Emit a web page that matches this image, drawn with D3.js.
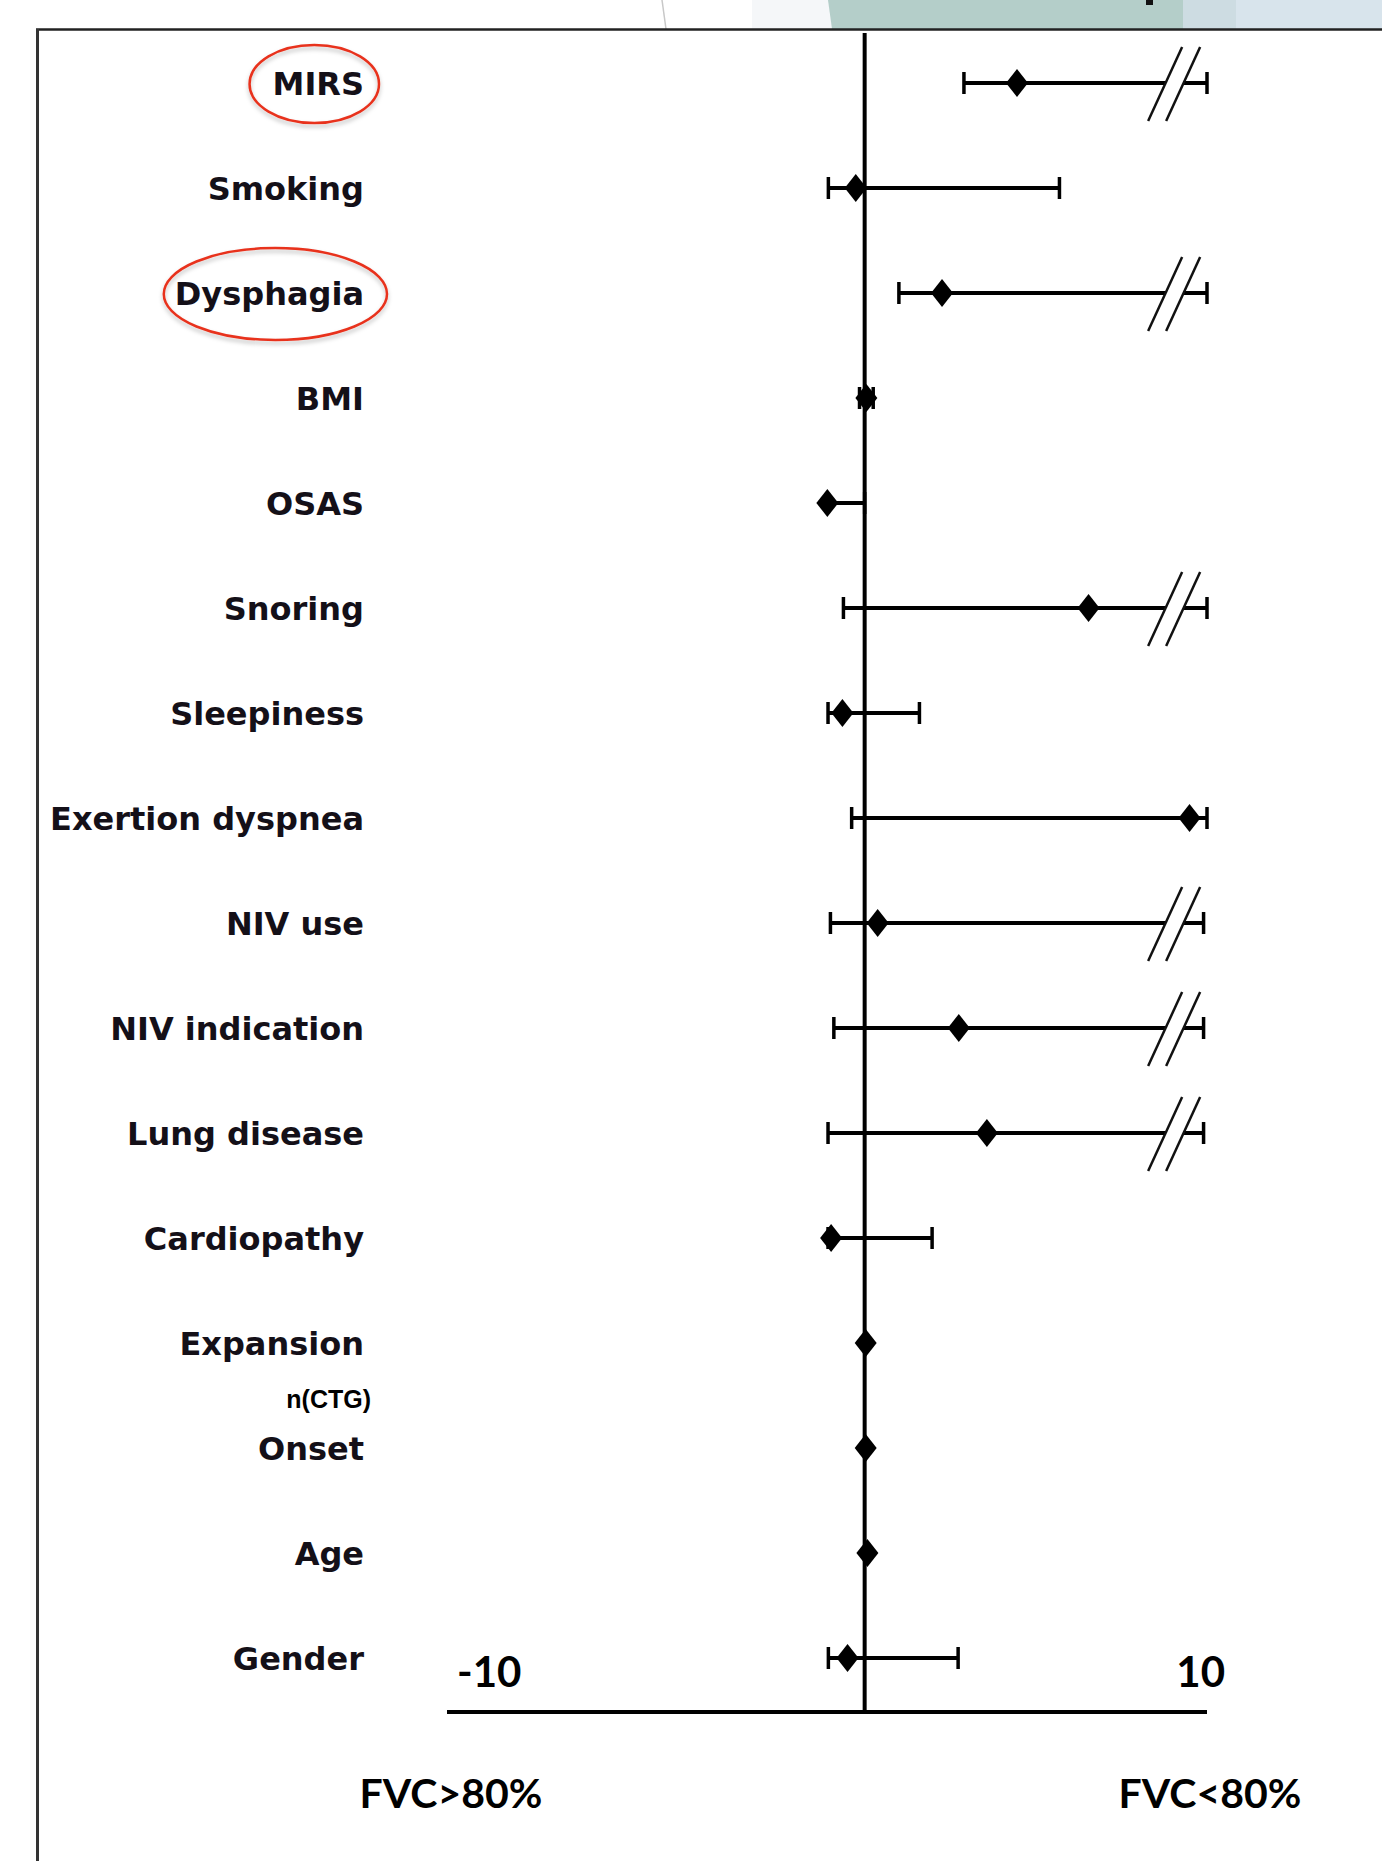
<!DOCTYPE html>
<html>
<head>
<meta charset="utf-8">
<script src="https://cdn.jsdelivr.net/npm/d3@7"></script>
<style>
  body { margin: 0; background: #fff; }
  svg { display: block; }
</style>
</head>
<body>
<div id="chart"></div>
<script>
// forest plot: FVC>80% vs FVC<80%
var categories = ["MIRS", "Smoking", "Dysphagia", "BMI", "OSAS", "Snoring", "Sleepiness",
  "Exertion dyspnea", "NIV use", "NIV indication", "Lung disease", "Cardiopathy",
  "Expansion", "Onset", "Age", "Gender"];
var estimates = [4.45, -0.26, 2.26, 0.05, -1.09, 6.54, -0.65, 9.49, 0.38, 2.75, 3.57, -0.98, 0.03, 0.03, 0.08, -0.5];
var lower = [2.9, -1.06, 1.0, -0.15, -1.09, -0.62, -1.07, -0.38, -1.0, -0.9, -1.07, -1.07, 0.03, 0.03, 0.08, -1.06];
var upper = [10, 5.69, 10, 0.25, 0, 10, 1.6, 10, 9.9, 9.9, 9.9, 1.97, 0.03, 0.03, 0.08, 2.73];
var truncated = [true, false, true, false, false, true, false, false, true, true, true, false, false, false, false, false];
var highlighted = ["MIRS", "Dysphagia"];
var tickLabels = ["-10", "10"];
var sideLabels = ["FVC>80%", "FVC<80%"];
var subLabel = "n(CTG)";
var breakAt = 9.04;

var width = 1382, height = 1861;

var svg = d3.select("#chart").append("svg")
  .attr("width", width)
  .attr("height", height);

var defs = svg.append("defs");
defs.append("filter").attr("id", "shadow")
  .attr("x", "-20%").attr("y", "-20%").attr("width", "140%").attr("height", "150%")
  .append("feDropShadow")
  .attr("dx", 0).attr("dy", 3).attr("stdDeviation", 2)
  .attr("flood-color", "#000").attr("flood-opacity", 0.25);

// slide background peeking above the frame
svg.append("rect").attr("x", 752).attr("y", 0).attr("width", 80).attr("height", 29).style("fill", "#f5f7f9");
svg.append("polygon").attr("points", "828,0 1183,0 1183,29 832,29").style("fill", "#b4cec9");
svg.append("rect").attr("x", 1183).attr("y", 0).attr("width", 53).attr("height", 29).style("fill", "#cddce2");
svg.append("rect").attr("x", 1236).attr("y", 0).attr("width", 146).attr("height", 29).style("fill", "#d8e4ec");
svg.append("rect").attr("x", 1146).attr("y", 0).attr("width", 7).attr("height", 5).style("fill", "#111");
svg.append("line").attr("x1", 662).attr("y1", 0).attr("x2", 666).attr("y2", 29)
  .style("stroke", "#c8c8c8").style("stroke-width", 1.5);

// frame
svg.append("line").attr("x1", 36).attr("y1", 29.5).attr("x2", width).attr("y2", 29.5)
  .style("stroke", "#222").style("stroke-width", 2.5);
svg.append("line").attr("x1", 37.5).attr("y1", 29).attr("x2", 37.5).attr("y2", height)
  .style("stroke", "#333").style("stroke-width", 3);

var x = d3.scaleLinear().domain([-12.2, 10]).range([447, 1207]);
var y = d3.scalePoint().domain(categories).range([83, 1658]);

var rows = categories.map(function(c, i) {
  return { name: c, est: estimates[i], lo: lower[i], hi: upper[i], cut: truncated[i] };
});

// zero line and bottom axis
svg.append("line")
  .attr("x1", x(0)).attr("x2", x(0)).attr("y1", 33).attr("y2", 1714)
  .style("stroke", "#000").style("stroke-width", 4);
svg.append("line")
  .attr("x1", x.range()[0]).attr("x2", x.range()[1]).attr("y1", 1712).attr("y2", 1712)
  .style("stroke", "#000").style("stroke-width", 4);

svg.append("text")
  .attr("x", x.range()[0] + 10).attr("y", 1687)
  .style("font-family", "Lato, sans-serif").style("font-weight", 700).style("font-size", "42px")
  .style("text-anchor", "start")
  .text(tickLabels[0]);
svg.append("text")
  .attr("x", x(10) + 18).attr("y", 1687)
  .style("font-family", "Lato, sans-serif").style("font-weight", 700).style("font-size", "42px")
  .style("text-anchor", "end")
  .text(tickLabels[1]);

svg.selectAll(".side")
  .data(sideLabels)
  .enter().append("text")
  .attr("class", "side")
  .attr("x", function(d, i) { return i == 0 ? 451 : 1210; })
  .attr("y", 1808)
  .style("font-family", "Lato, sans-serif").style("font-weight", 700).style("font-size", "41px")
  .style("text-anchor", "middle")
  .text(function(d) { return d; });

// row labels
var labels = svg.selectAll(".lab")
  .data(rows)
  .enter().append("text")
  .attr("class", "lab")
  .attr("x", 364)
  .attr("y", function(d) { return y(d.name) + 12; })
  .style("font-family", "'DejaVu Sans', sans-serif").style("font-weight", "bold").style("font-size", "32px")
  .style("fill", "#141018")
  .style("text-anchor", "end")
  .text(function(d) { return d.name; });

svg.append("text")
  .attr("x", 371).attr("y", 1408)
  .style("font-family", "'Liberation Sans', Arial, sans-serif").style("font-weight", "bold").style("font-size", "25px")
  .style("text-anchor", "end")
  .text(subLabel);

// red ellipses round the key variables
labels.filter(function(d) { return highlighted.indexOf(d.name) >= 0; })
  .each(function(d) {
    var b = this.getBBox();
    var mirs = d.name == "MIRS";
    svg.append("ellipse")
      .attr("cx", b.x + b.width / 2 + (mirs ? -4 : 6))
      .attr("cy", y(d.name) + 1)
      .attr("rx", b.width / 2 + (mirs ? 19 : 17))
      .attr("ry", mirs ? 39 : 46)
      .style("fill", "none")
      .style("stroke", "#e8321e")
      .style("stroke-width", 2.5)
      .attr("filter", "url(#shadow)");
  });

// confidence intervals
var ci = rows.filter(function(d) { return d.hi > d.lo; });

svg.selectAll(".ci")
  .data(ci)
  .enter().append("line")
  .attr("class", "ci")
  .attr("x1", function(d) { return x(d.lo); })
  .attr("x2", function(d) { return x(d.hi); })
  .attr("y1", function(d) { return y(d.name); })
  .attr("y2", function(d) { return y(d.name); })
  .style("stroke", "#000").style("stroke-width", 4);

svg.selectAll(".capL")
  .data(ci)
  .enter().append("line")
  .attr("class", "capL")
  .attr("x1", function(d) { return x(d.lo); })
  .attr("x2", function(d) { return x(d.lo); })
  .attr("y1", function(d) { return y(d.name) - 11; })
  .attr("y2", function(d) { return y(d.name) + 11; })
  .style("stroke", "#000").style("stroke-width", 3.5);

svg.selectAll(".capR")
  .data(ci)
  .enter().append("line")
  .attr("class", "capR")
  .attr("x1", function(d) { return x(d.hi); })
  .attr("x2", function(d) { return x(d.hi); })
  .attr("y1", function(d) { return y(d.name) - 11; })
  .attr("y2", function(d) { return y(d.name) + 11; })
  .style("stroke", "#000").style("stroke-width", 3.5);

// axis breaks "//"
var breaks = svg.selectAll(".brk")
  .data(rows.filter(function(d) { return d.cut; }))
  .enter().append("g")
  .attr("class", "brk")
  .attr("transform", function(d) { return "translate(" + x(breakAt) + "," + y(d.name) + ")"; });

breaks.append("polygon")
  .attr("points", "-26,36 8,-36 26,-36 -8,36")
  .style("fill", "#fff");
breaks.append("line")
  .attr("x1", -26).attr("y1", 38).attr("x2", 8).attr("y2", -36)
  .style("stroke", "#111").style("stroke-width", 2.5);
breaks.append("line")
  .attr("x1", -8).attr("y1", 38).attr("x2", 26).attr("y2", -36)
  .style("stroke", "#111").style("stroke-width", 2.5);

// point estimates
svg.selectAll(".est")
  .data(rows)
  .enter().append("path")
  .attr("class", "est")
  .attr("d", "M0,-14 L11,0 L0,14 L-11,0 Z")
  .attr("transform", function(d) { return "translate(" + x(d.est) + "," + y(d.name) + ")"; })
  .style("fill", "#000");
</script>
</body>
</html>
